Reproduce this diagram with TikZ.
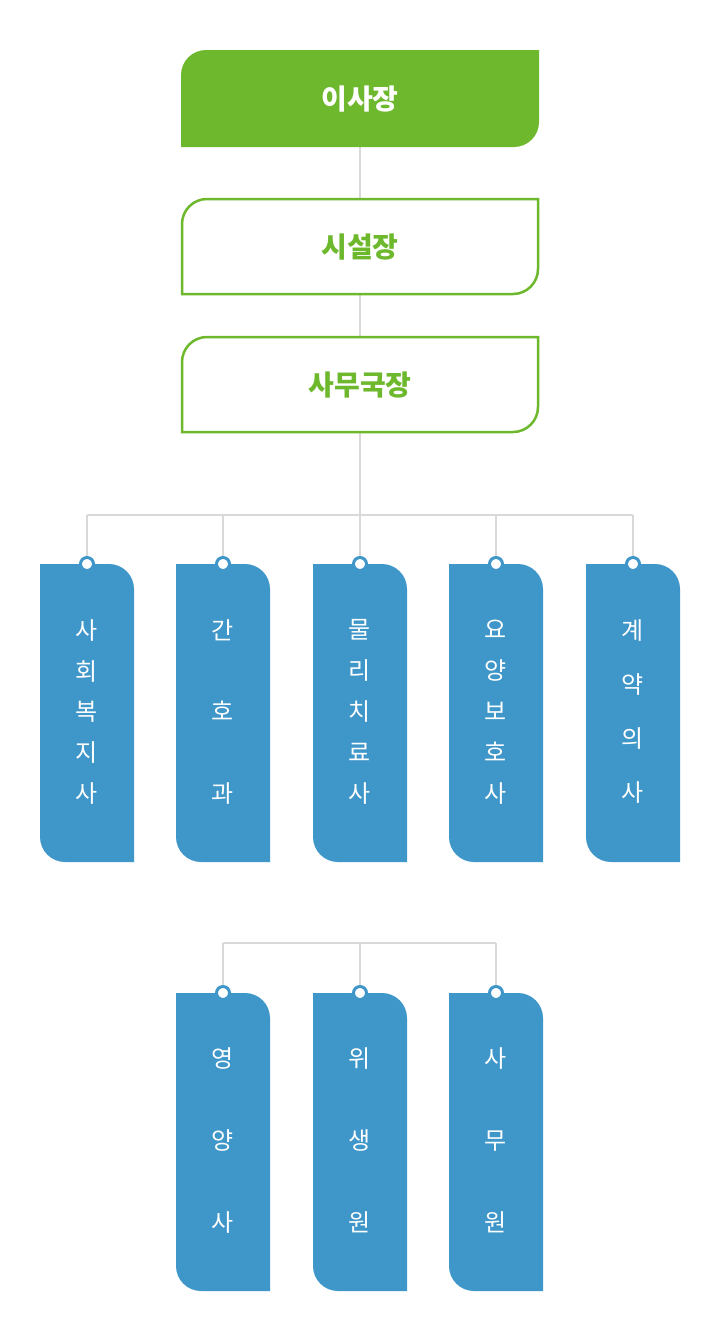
\documentclass[tikz,border=0pt]{standalone}
\usepackage{fontspec}
\newfontfamily\kr{Noto Sans CJK KR}
\definecolor{gr}{HTML}{6DB82C}
\definecolor{bl}{HTML}{3F96C9}
\definecolor{ln}{HTML}{D9D9D9}
\newcommand\tlbox[5]{% x1 x2 yt yb style
 \path[#5] (#1,#4) -- (#1,#3-25) arc[start angle=180,end angle=90,radius=25] -- (#2,#3) -- (#2,#4+25) arc[start angle=0,end angle=-90,radius=25] -- cycle;}
\newcommand\bbox[3]{% x1 yt name
 \path[fill=bl] (#1,#2) -- (#1+94-25,#2) arc[start angle=90,end angle=0,radius=25] -- (#1+94,#2-298) -- (#1+25,#2-298) arc[start angle=270,end angle=180,radius=25] -- cycle;
 \node[draw=bl,fill=white,circle,line width=3,minimum size=13,inner sep=0] (#3) at (#1+47,#2) {};}
\tikzset{vt/.style={text=white,align=center,font=\kr\fontsize{24}{#1}\selectfont},
 ttl/.style={font=\kr\bfseries\fontsize{28}{30}\selectfont},
 conn/.style={draw=ln,line width=1.5}}
\begin{document}
\begin{tikzpicture}[x=1pt,y=1pt]
\useasboundingbox (0,0) rectangle (720,-1342);
% connectors first
\coordinate (h) at (360,-515);
\coordinate (hl) at (87,-515);
\coordinate (hr) at (633,-515);
\coordinate (g) at (360,-943);
\coordinate (gl) at (223,-943);
\coordinate (gr) at (496,-943);
\draw[conn] (360,-147) coordinate(t1) -- (360,-199) coordinate(t2);
\draw[conn] (360,-294) coordinate(t3) -- (360,-337) coordinate(t4);
\draw[conn] (360,-432) coordinate(t5) -- (h);
\draw[conn] (hl) -- (hr);
\draw[conn] (gl) -- (gr);
\tlbox{181}{539}{-50}{-147}{fill=gr}
\tlbox{182}{538}{-199}{-294}{draw=gr,line width=2.5,fill=white}
\tlbox{182}{538}{-337}{-432}{draw=gr,line width=2.5,fill=white}
\node[ttl,text=white] (n1) at (360,-99) {이사장};
\node[ttl,text=gr] (n2) at (360,-247) {시설장};
\node[ttl,text=gr] (n3) at (360,-385) {사무국장};
\bbox{40}{-564}{c1}
\bbox{176}{-564}{c2}
\bbox{313}{-564}{c3}
\bbox{449}{-564}{c4}
\bbox{586}{-564}{c5}
\bbox{176}{-993}{c6}
\bbox{313}{-993}{c7}
\bbox{449}{-993}{c8}
\foreach \c/\x in {c1/87,c2/223,c3/360,c4/496,c5/633}{\draw[conn] (\x,-515) -- (\c.north);}
\foreach \c/\x in {c6/223,c7/360,c8/496}{\draw[conn] (\x,-943) -- (\c.north);}
\node[vt=41] (l1) at (87,-712) {사\\회\\복\\지\\사};
\node[vt=82] (l2) at (223,-712) {간\\호\\과};
\node[vt=41] (l3) at (360,-712) {물\\리\\치\\료\\사};
\node[vt=41] (l4) at (496,-712) {요\\양\\보\\호\\사};
\node[vt=54] (l5) at (633,-711) {계\\약\\의\\사};
\node[vt=82] (l6) at (223,-1140) {영\\양\\사};
\node[vt=82] (l7) at (360,-1140) {위\\생\\원};
\node[vt=82] (l8) at (496,-1140) {사\\무\\원};
\end{tikzpicture}
\end{document}
